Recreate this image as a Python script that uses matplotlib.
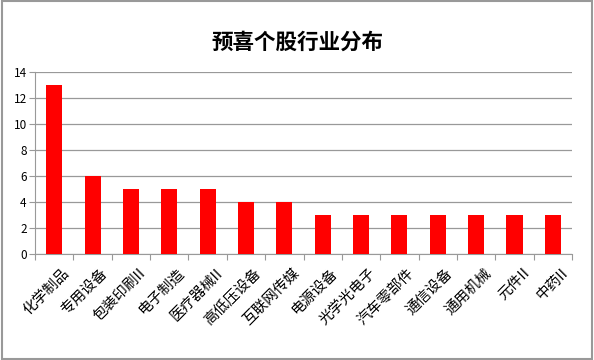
import numpy as np
import matplotlib.pyplot as plt
from matplotlib.patches import Rectangle

plt.rcParams['font.family'] = ['Noto Sans CJK SC', 'DejaVu Sans']

# data
categories = ['化学制品', '专用设备', '包装印刷II', '电子制造', '医疗器械II', '高低压设备',
              '互联网传媒', '电源设备', '光学光电子', '汽车零部件', '通信设备', '通用机械',
              '元件II', '中药II']
counts = [13, 6, 5, 5, 5, 4, 4, 3, 3, 3, 3, 3, 3, 3]
yticks = [0, 2, 4, 6, 8, 10, 12, 14]

fig = plt.figure(figsize=(5.94, 3.60), dpi=100)
ax = fig.add_axes([0.059, 0.294, 0.904, 0.506])

x = np.arange(len(categories))
ax.bar(x, counts, width=0.42, color='#ff0000', zorder=3)

ax.set_xlim(-0.5, len(categories) - 0.5)
ax.set_ylim(0, 14)
ax.set_yticks(yticks)
ax.tick_params(axis='y', labelsize=8.5, length=4, color='#999999', pad=2)
ax.grid(axis='y', color='#999999', linewidth=0.9, zorder=0)

# category ticks between bars
ax.set_xticks(np.arange(-0.5, len(categories)), minor=False)
ax.set_xticklabels([])
ax.tick_params(axis='x', length=4, color='#999999')
for i, lab in enumerate(categories):
    ax.text(i + 0.2, -0.9, lab, rotation=45, ha='right', va='top',
            fontsize=10.5, rotation_mode='anchor', transform=ax.transData)

for s in ['top', 'right']:
    ax.spines[s].set_visible(False)
for s in ['left', 'bottom']:
    ax.spines[s].set_color('#999999')

fig.text(0.5, 0.883, '预喜个股行业分布', ha='center', va='center',
         fontsize=15.5, fontweight='bold')

fig.patches.append(Rectangle((0.003, 0.004), 0.994, 0.992, transform=fig.transFigure,
                             fill=False, edgecolor='#999999', linewidth=1.5))

fig.savefig('out.png', dpi=100)
